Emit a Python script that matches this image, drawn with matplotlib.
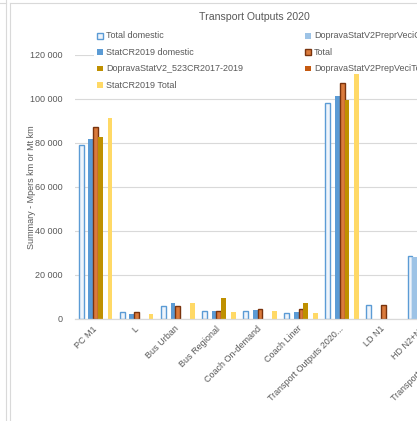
import numpy as np
import matplotlib.pyplot as plt
from matplotlib.patches import Rectangle
from matplotlib.lines import Line2D
from matplotlib.ticker import FuncFormatter

nan = np.nan

###-------------data (Mpers km or Mt km)-------------###
categories = ["PC M1", "L", "Bus Urban", "Bus Regional", "Coach On-demand",
              "Coach Liner", "Transport Outputs 2020...", "LD N1", "HD N2+N3",
              "Transport Outputs 2020..."]

total_domestic = [79000, 3000, 5800, 3600, 3800, 2900, 98000, 6200, 28500, nan]
doprava_cr = [nan, nan, nan, nan, nan, nan, nan, nan, 28100, nan]
statcr_domestic = [81700, 2300, 7300, 3500, 3900, 3200, 101500, nan, nan, nan]
total = [87100, 3300, 5800, 3800, 4500, 4400, 107400, 6300, nan, nan]
doprava_523 = [82800, nan, nan, 9700, nan, 7100, 99500, nan, nan, nan]
doprava_tot = [nan, nan, nan, nan, nan, nan, nan, nan, nan, nan]
statcr_total = [91300, 2100, 7100, 3300, 3800, 2900, 111400, nan, nan, nan]

series_names = ["Total domestic", "DopravaStatV2PreprVeciCR", "StatCR2019 domestic",
                "Total", "DopravaStatV2_523CR2017-2019", "DopravaStatV2PrepVeciTot",
                "StatCR2019 Total"]
series_values = [total_domestic, doprava_cr, statcr_domestic, total,
                 doprava_523, doprava_tot, statcr_total]

# face, edge, linewidth for each series
styles = [("#EEF4FB", "#5B9BD5", 1.0),
          ("#9DC3E6", "#9DC3E6", 0.0),
          ("#5B9BD5", "#5B9BD5", 0.0),
          ("#DA7A3C", "#7A330D", 1.0),
          ("#BF9000", "#BF9000", 0.0),
          ("#C55A11", "#C55A11", 0.0),
          ("#FFD966", "#FFD966", 0.0)]

W, H = 417, 421
txt = "#595959"
plt.rcParams['font.family'] = ['Liberation Sans', 'DejaVu Sans']

fig = plt.figure(figsize=(W / 100, H / 100), dpi=100)
ax = fig.add_axes([75 / W, 102 / H, 411 / W, 264 / H])

###-------------bars-------------###
x = np.arange(len(categories))
bw = 0.1168
for i, vals in enumerate(series_values):
    fc, ec, lw = styles[i]
    ax.bar(x + (i - 3) * bw, vals, bw, color=fc, edgecolor=ec, linewidth=lw, zorder=2)

ax.set_xlim(-0.5, len(categories) - 0.5)
ax.set_ylim(0, 120000)
ax.set_yticks(np.arange(0, 120001, 20000))
ax.yaxis.set_major_formatter(FuncFormatter(lambda v, p: "{:,}".format(int(v)).replace(",", " ")))
ax.set_xticks(x)
ax.set_xticklabels(categories, rotation=45, ha="right", rotation_mode="anchor",
                   va="center", fontsize=6.5, color=txt)
ax.tick_params(axis="y", length=0, pad=9, labelsize=6.5, labelcolor=txt)
ax.tick_params(axis="x", length=0, pad=6)
ax.set_axisbelow(True)
ax.grid(axis="y", color="#D9D9D9", linewidth=0.8)
for s in ["top", "right", "left"]:
    ax.spines[s].set_visible(False)
ax.spines["bottom"].set_color("#D9D9D9")
ax.spines["bottom"].set_linewidth(0.9)

ax.set_ylabel("Summary - Mpers km or Mt km", fontsize=6.5, color=txt)
ax.yaxis.set_label_coords(-39 / 411, 0.5)

fig.text(254 / W, 1 - 17 / H, "Transport Outputs 2020", ha="center", va="center",
         fontsize=7.6, color=txt)

###-------------legend-------------###
# white legend background sits over the gridlines but under the bars
ax.add_patch(Rectangle((94 / W, 1 - 93 / H), 330 / W, 65 / H, transform=fig.transFigure,
                       facecolor="white", edgecolor="none", zorder=1, clip_on=False))
legend_cols = [97, 305]
legend_rows = [36, 52.3, 68.6, 85]
for i, name in enumerate(series_names):
    fc, ec, lw = styles[i]
    lx = legend_cols[i % 2]
    ly = legend_rows[i // 2]
    fig.add_artist(Rectangle((lx / W, 1 - (ly + 2.8) / H), 5.6 / W, 5.6 / H,
                             transform=fig.transFigure, facecolor=fc, edgecolor=ec,
                             linewidth=lw, zorder=5))
    fig.text((lx + 9) / W, 1 - ly / H, name, ha="left", va="center",
             fontsize=6.5, color=txt, zorder=5)

###-------------frame lines-------------###
fig.add_artist(Line2D([6 / W, 6 / W], [0, 1], color="#D9D9D9", lw=0.8))
fig.add_artist(Line2D([10 / W, 10 / W], [0, 1 - 3 / H], color="#D9D9D9", lw=0.8))
fig.add_artist(Line2D([10 / W, 1], [1 - 3 / H, 1 - 3 / H], color="#D9D9D9", lw=0.8))
fig.add_artist(Line2D([0, 6 / W], [1 - 3 / H, 1 - 3 / H], color="#D9D9D9", lw=0.8))

fig.savefig("out.png", dpi=100)
